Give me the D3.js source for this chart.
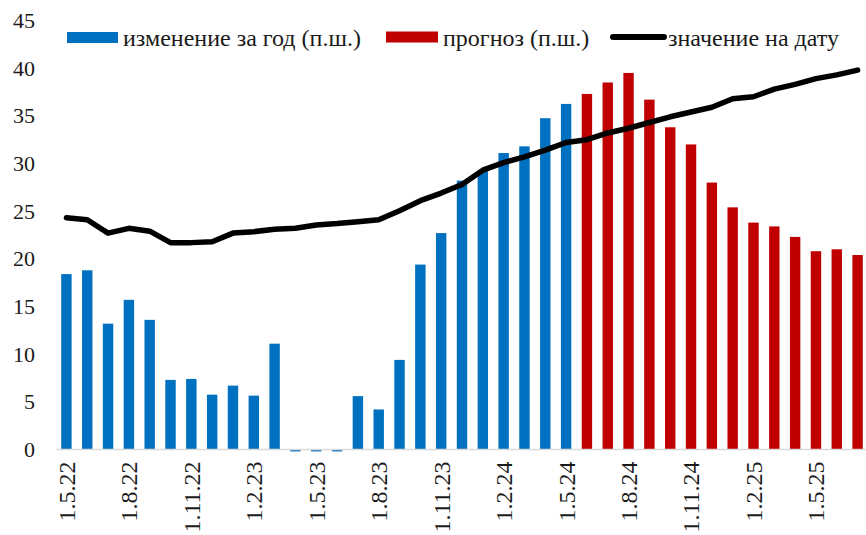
<!DOCTYPE html>
<html><head><meta charset="utf-8">
<script src="https://cdn.jsdelivr.net/npm/d3@7"></script>
<style>body{margin:0;background:#fff}svg{display:block}</style>
</head><body><svg id="c" width="866" height="535"></svg>
<script>
const months = ["1.5.22","1.6.22","1.7.22","1.8.22","1.9.22","1.10.22","1.11.22","1.12.22",
"1.1.23","1.2.23","1.3.23","1.4.23","1.5.23","1.6.23","1.7.23","1.8.23","1.9.23","1.10.23","1.11.23","1.12.23",
"1.1.24","1.2.24","1.3.24","1.4.24","1.5.24","1.6.24","1.7.24","1.8.24","1.9.24","1.10.24","1.11.24","1.12.24",
"1.1.25","1.2.25","1.3.25","1.4.25","1.5.25","1.6.25","1.7.25"];
const tickLabels = ["1.5.22","1.8.22","1.11.22","1.2.23","1.5.23","1.8.23","1.11.23","1.2.24","1.5.24","1.8.24","1.11.24","1.2.25","1.5.25"];
const yTicks = [0,5,10,15,20,25,30,35,40,45];
// изменение за год (п.ш.) — May 2022 .. May 2024
const yoyMonths = months.slice(0,25);
const yoyValues = [18.4,18.8,13.2,15.7,13.6,7.3,7.4,5.75,6.7,5.65,11.1,-0.2,-0.2,-0.2,5.6,4.2,9.4,19.4,22.7,28.2,29.2,31.1,31.8,34.75,36.25];
// прогноз (п.ш.) — Jun 2024 .. Jul 2025
const fcMonths = months.slice(25);
const fcValues = [37.3,38.5,39.5,36.7,33.8,32.0,28.0,25.4,23.8,23.4,22.3,20.8,21.0,20.4];
// значение на дату
const levelValues = [24.3,24.1,22.7,23.2,22.9,21.7,21.7,21.8,22.7,22.85,23.1,23.2,23.55,23.7,23.9,24.1,25.05,26.1,26.9,27.8,
29.3,30.1,30.7,31.4,32.2,32.5,33.2,33.7,34.3,34.9,35.4,35.9,36.8,37.0,37.8,38.3,38.9,39.3,39.8];

const BLUE="#0070C0", RED="#C00000", TXT="#1a1a1a", FONT="'Liberation Serif','Times New Roman',serif";
const svg = d3.select("#c");
const x = d3.scaleBand().domain(months).range([56,868]).paddingInner(0.5).paddingOuter(0.25);
const y = d3.scaleLinear().domain([0,45]).range([449.5,20.5]);

// bars
svg.append("g").selectAll("rect").data(yoyMonths.map((m,i)=>({m,v:yoyValues[i]}))).join("rect")
  .attr("x",d=>x(d.m)).attr("width",x.bandwidth())
  .attr("y",d=>y(Math.max(0,d.v))).attr("height",d=>Math.abs(y(d.v)-y(0))).attr("fill",BLUE);
svg.append("g").selectAll("rect").data(fcMonths.map((m,i)=>({m,v:fcValues[i]}))).join("rect")
  .attr("x",d=>x(d.m)).attr("width",x.bandwidth())
  .attr("y",d=>y(Math.max(0,d.v))).attr("height",d=>Math.abs(y(d.v)-y(0))).attr("fill",RED);

// x axis
const xAxis = d3.axisBottom(x).tickValues(tickLabels).tickSize(0).tickPadding(0);
const gx = svg.append("g").attr("transform",`translate(0,${y(0)})`).call(xAxis);
gx.select(".domain").attr("d","M56,0H866").attr("stroke","#d9d9d9").attr("stroke-width",1.5);
gx.selectAll("text").attr("font-family",FONT).attr("font-size",24).attr("fill",TXT)
  .attr("transform","rotate(-90)").attr("text-anchor","end").attr("x",-12).attr("y",0).attr("dy","0.35em");

// y axis
const yAxis = d3.axisLeft(y).tickValues(yTicks).tickSize(0).tickPadding(0);
const gy = svg.append("g").attr("transform","translate(35,0)").call(yAxis);
gy.select(".domain").remove();
gy.selectAll("text").attr("font-family",FONT).attr("font-size",22).attr("fill",TXT);

// line
svg.append("path").datum(levelValues).attr("fill","none").attr("stroke","#000").attr("stroke-width",5.5)
  .attr("stroke-linejoin","round").attr("stroke-linecap","round")
  .attr("d",d3.line().x((d,i)=>x(months[i])+x.bandwidth()/2).y(d=>y(d)));

// legend
const lg = svg.append("g").attr("font-family",FONT).attr("font-size",24).attr("fill",TXT);
lg.append("rect").attr("x",67).attr("y",32).attr("width",51).attr("height",11).attr("fill",BLUE);
lg.append("text").attr("x",123).attr("y",46).text("изменение за год (п.ш.)");
lg.append("rect").attr("x",386).attr("y",31.5).attr("width",52).attr("height",11).attr("fill",RED);
lg.append("text").attr("x",443).attr("y",46).text("прогноз (п.ш.)");
lg.append("line").attr("x1",613).attr("x2",664).attr("y1",37).attr("y2",37).attr("stroke","#000").attr("stroke-width",6).attr("stroke-linecap","round");
lg.append("text").attr("x",668).attr("y",46).text("значение на дату");
</script></body></html>
